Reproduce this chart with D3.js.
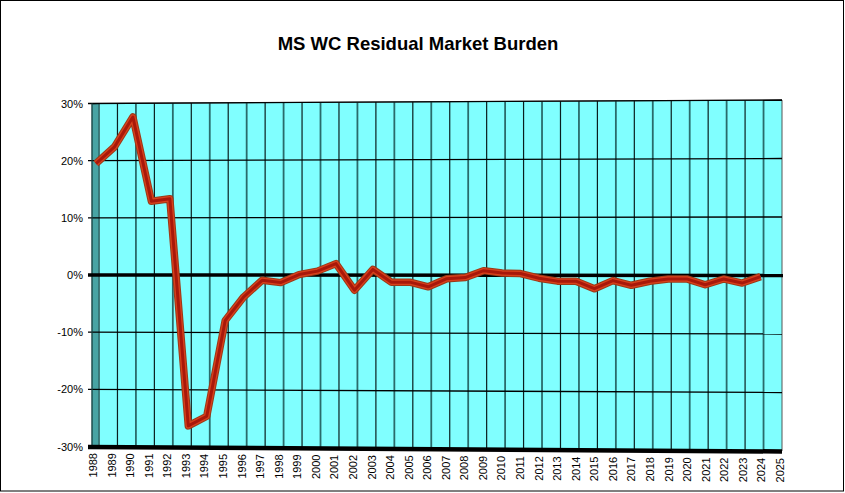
<!DOCTYPE html>
<html>
<head>
<meta charset="utf-8">
<script src="https://cdn.jsdelivr.net/npm/d3@7"></script>
<style>
  body { margin: 0; background: #fff; }
  text { font-family: Arial, "Liberation Sans", sans-serif; }
</style>
</head>
<body>
<script>
// MS WC residual market burden, drawn like the old Excel 3-D line chart

var width = 845,
    height = 493;

// categories (x tick labels)
var years = ["1988","1989","1990","1991","1992","1993","1994","1995","1996","1997",
             "1998","1999","2000","2001","2002","2003","2004","2005","2006","2007",
             "2008","2009","2010","2011","2012","2013","2014","2015","2016","2017",
             "2018","2019","2020","2021","2022","2023","2024","2025"];

// burden in percent, 2025 has no value yet
var burden = [19.5, 22.4, 27.6, 12.9, 13.3, -26.3, -24.6, -7.9, -3.8, -0.9,
              -1.3, 0.1, 0.7, 2.0, -2.6, 1.0, -1.2, -1.2, -2.0, -0.6,
              -0.4, 0.8, 0.4, 0.3, -0.5, -1.0, -1.0, -2.3, -0.9, -1.7,
              -1.0, -0.6, -0.6, -1.6, -0.6, -1.3, -0.2, null];

// y tick values
var yTicks = [30, 20, 10, 0, -10, -20, -30];

var svg = d3.select("body")
            .append("svg")
            .attr("width", width)
            .attr("height", height);

svg.append("rect")
   .attr("x", 0.5).attr("y", 0.5)
   .attr("width", 843).attr("height", 490.5)
   .attr("fill", "#fff")
   .attr("stroke", "#000");

// three depths of the 3-D box: front (labels), middle (series), back (wall)
var n = years.length - 1;
var xFront = d3.scaleLinear().domain([0, n]).range([93, 780]);
var xMid   = d3.scaleLinear().domain([0, n]).range([96, 779]);
var xBack  = d3.scaleLinear().domain([0, n]).range([99, 782]);

// the wall is a little taller at its right edge
var yLeft  = d3.scaleLinear().domain([-30, 30]).range([446.5, 103.5]);
var yRight = d3.scaleLinear().domain([-30, 30]).range([451, 100]);
var wx0 = xBack(0), wx1 = xBack(n);
function wallY(v, x) {
  var t = (x - wx0) / (wx1 - wx0);
  return yLeft(v) + (yRight(v) - yLeft(v)) * t;
}

// back wall
svg.append("polygon")
   .attr("points", [[wx0, yLeft(30)], [wx1, yRight(30)], [wx1, yRight(-30)], [wx0, yLeft(-30)]].join(" "))
   .attr("fill", "#80ffff")
   .attr("stroke", "#555")
   .attr("stroke-width", 1);

// side wall
svg.append("polygon")
   .attr("points", [[92, yLeft(30) + 0.5], [wx0, yLeft(30)], [wx0, yLeft(-30)], [92, yLeft(-30) + 0.5]].join(" "))
   .attr("fill", "#48a4a4")
   .attr("stroke", "#1f4f4f")
   .attr("stroke-width", 1);

// vertical gridlines on the wall
svg.append("g")
   .selectAll("line")
   .data(d3.range(1, n))
   .join("line")
   .attr("x1", function(i) { return xBack(i); })
   .attr("x2", function(i) { return xBack(i); })
   .attr("y1", function(i) { return wallY(30, xBack(i)); })
   .attr("y2", function(i) { return wallY(-30, xBack(i)); })
   .attr("stroke", function(i) { return i % 2 ? "#0a1f1f" : "#2a6b6b"; })
   .attr("stroke-width", function(i) { return i % 2 ? 1.2 : 1.8; });

// horizontal gridlines + ticks
var grid = svg.append("g");
grid.selectAll("line.g")
    .data(yTicks.filter(function(v) { return v !== 0 && v !== -30; }))
    .join("line")
    .attr("class", "g")
    .attr("x1", 88)
    .attr("y1", function(v) { return yLeft(v); })
    .attr("x2", wx1)
    .attr("y2", function(v) { return yRight(v); })
    .attr("stroke", "#000")
    .attr("stroke-width", 1.3);

svg.append("line")
   .attr("x1", 92).attr("x2", 92)
   .attr("y1", yLeft(30)).attr("y2", yLeft(-30))
   .attr("stroke", "#1f4f4f");

// y labels
svg.append("g")
   .selectAll("text")
   .data(yTicks)
   .join("text")
   .attr("x", 83)
   .attr("y", function(v) { return yLeft(v) + 4; })
   .attr("text-anchor", "end")
   .attr("font-size", 11)
   .attr("fill", "#000")
   .text(function(v) { return v + "%"; });

// floor, seen edge on
svg.append("line")
   .attr("x1", 88).attr("y1", yLeft(-30) + 0.5)
   .attr("x2", wx1).attr("y2", yRight(-30) + 0.5)
   .attr("stroke", "#000")
   .attr("stroke-width", 4.5);

// zero line
svg.append("line")
   .attr("x1", 88).attr("y1", wallY(0, wx0))
   .attr("x2", wx1 + 1).attr("y2", wallY(0, wx1))
   .attr("stroke", "#000")
   .attr("stroke-width", 3.5);

// series ribbon
var line = d3.line()
  .defined(function(d) { return d !== null; })
  .x(function(d, i) { return xMid(i); })
  .y(function(d, i) { return wallY(d, xMid(i)); });

svg.append("path")
   .datum(burden)
   .attr("d", line)
   .attr("fill", "none")
   .attr("stroke", "#9a3a18")
   .attr("stroke-width", 7.5)
   .attr("stroke-linejoin", "round");

svg.append("path")
   .datum(burden)
   .attr("d", line)
   .attr("fill", "none")
   .attr("stroke", "#d8401c")
   .attr("stroke-width", 5.5)
   .attr("stroke-linejoin", "round");

svg.append("path")
   .datum(burden)
   .attr("d", line)
   .attr("fill", "none")
   .attr("stroke", "#a8180a")
   .attr("stroke-width", 3)
   .attr("stroke-linejoin", "round");

// x labels, rotated
svg.append("g")
   .selectAll("text")
   .data(years)
   .join("text")
   .attr("transform", function(d, i) {
     var x = xFront(i) + 4;
     var y = 453 + 5 * i / n;
     return "translate(" + x + "," + y + ") rotate(-90)";
   })
   .attr("text-anchor", "end")
   .attr("font-size", 11)
   .attr("fill", "#000")
   .text(function(d) { return d; });

// title
svg.append("text")
   .attr("x", 418)
   .attr("y", 50)
   .attr("text-anchor", "middle")
   .attr("font-size", 18.5)
   .attr("font-weight", "bold")
   .attr("fill", "#000")
   .text("MS WC Residual Market Burden");
</script>
</body>
</html>
